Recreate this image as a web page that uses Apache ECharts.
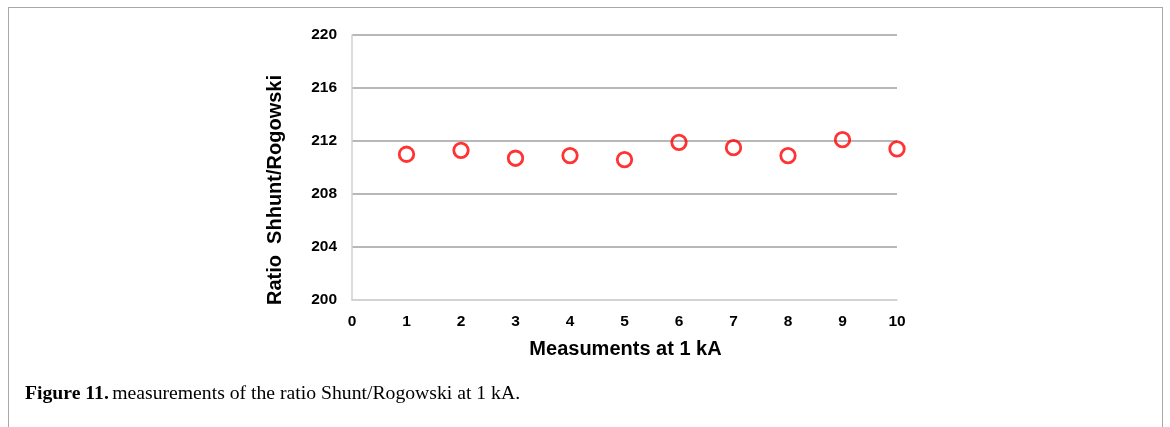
<!DOCTYPE html>
<html>
<head>
<meta charset="utf-8">
<script src="https://cdn.jsdelivr.net/npm/echarts@6/dist/echarts.min.js"></script>
<style>
  html,body{margin:0;padding:0;background:#fff;}
  #wrap{position:relative;width:1170px;height:427px;overflow:hidden;}
  #frame{position:absolute;left:8px;top:7px;width:1155px;height:440px;border:1.5px solid #a8a8a8;box-sizing:border-box;}
  #chart{position:absolute;left:0;top:0;width:1170px;height:427px;}
</style>
</head>
<body>
<div id="wrap">
  <div id="frame"></div>
  <div id="chart"></div>
</div>
<script>
const measurementIndex = [1, 2, 3, 4, 5, 6, 7, 8, 9, 10];
const ratioValues = [211.0, 211.3, 210.7, 210.9, 210.6, 211.9, 211.5, 210.9, 212.1, 211.4];
const xTicks = [0, 1, 2, 3, 4, 5, 6, 7, 8, 9, 10];
const yTicks = [200, 204, 208, 212, 216, 220];
const xTitle = 'Measuments at 1 kA';
const yTitle = 'Ratio  Shhunt/Rogowski';

const chart = echarts.init(document.getElementById('chart'), null, {renderer: 'canvas'});
const sans = 'Liberation Sans, Arial, sans-serif';
const axisFont = {fontFamily: sans, fontWeight: 'bold', fontSize: 15.5, color: '#000'};
chart.setOption({
  backgroundColor: 'transparent',
  animation: false,
  grid: {left: 352, right: 273, top: 35, bottom: 127, containLabel: false},
  xAxis: {
    type: 'value',
    min: xTicks[0], max: xTicks[xTicks.length - 1], interval: 1,
    name: xTitle,
    nameLocation: 'middle', nameGap: 39,
    nameTextStyle: {fontFamily: sans, fontWeight: 'bold', fontSize: 20, color: '#000', padding: [0, 0, 0, 2]},
    axisLine: {show: true, lineStyle: {color: '#d0d0d0', width: 1.5}},
    axisTick: {show: false},
    splitLine: {show: false},
    axisLabel: Object.assign({margin: 14}, axisFont)
  },
  yAxis: {
    type: 'value',
    min: yTicks[0], max: yTicks[yTicks.length - 1], interval: 4,
    axisLine: {show: true, lineStyle: {color: '#d0d0d0', width: 1.5}},
    axisTick: {show: false},
    splitLine: {show: true, lineStyle: {color: ['#d0d0d0', '#a0a0a0', '#a0a0a0', '#a0a0a0', '#a0a0a0', '#a0a0a0'], width: 1.5}},
    axisLabel: Object.assign({margin: 15}, axisFont)
  },
  series: [{
    type: 'scatter',
    data: measurementIndex.map((x, i) => [x, ratioValues[i]]),
    symbol: 'circle',
    symbolSize: 14.5,
    itemStyle: {color: 'rgba(255,255,255,0)', borderColor: '#ff0000', borderWidth: 2.8}
  }],
  graphic: [{
    type: 'text',
    x: 275, y: 190,
    rotation: Math.PI / 2,
    style: {
      text: yTitle,
      fontFamily: sans, fontWeight: 'bold', fontSize: 20, fill: '#000',
      align: 'center', verticalAlign: 'middle'
    }
  }, {
    type: 'text',
    left: 25, top: 384,
    style: {
      rich: {
        b: {fontFamily: 'Liberation Serif, Times New Roman, serif', fontWeight: 'bold', fontSize: 19.7, fill: '#000'},
        r: {fontFamily: 'Liberation Serif, Times New Roman, serif', fontSize: 19.7, fill: '#000'}
      },
      text: '{b|Figure 11.} {r|measurements of the ratio Shunt/Rogowski at 1 kA.}'
    }
  }]
});
</script>
</body>
</html>
